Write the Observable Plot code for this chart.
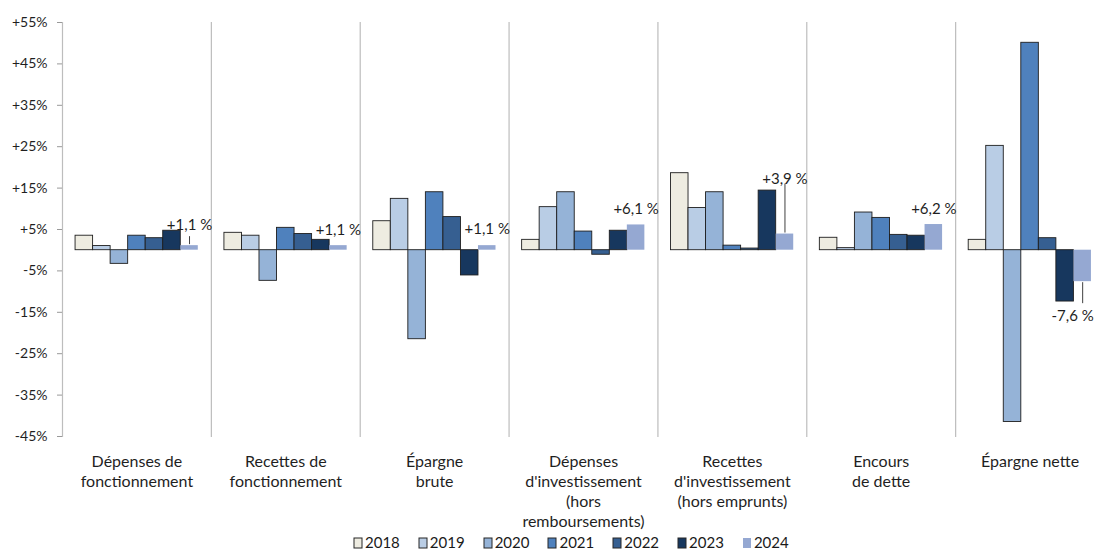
<!DOCTYPE html>
<html>
<head>
<meta charset="utf-8">
<script src="https://cdn.jsdelivr.net/npm/d3@7"></script>
<script src="https://cdn.jsdelivr.net/npm/@observablehq/plot@0.6"></script>
<style>
  html, body { margin: 0; padding: 0; background: #fff; overflow: hidden; width: 1098px; height: 551px; }
  #wrap { position: relative; width: 1098px; height: 551px; overflow: hidden; font-family: Lato, sans-serif; }
  #chart { position: absolute; left: 0; top: 0; width: 1104px; }
  #chart svg { max-width: none !important; width: 1104px !important; height: 551px !important; }
  #legend { position: absolute; left: 354px; top: 534px; height: 17px; }
  #legend .leg-swatches { font-family: Lato, sans-serif; font-size: 15px; color: #1a1a1a; margin: 0; }
  #legend .leg-swatches-wrap { min-height: 17px; flex-wrap: nowrap; }
  #legend .leg-swatch { margin-right: 19px; line-height: 17px; }
  #legend .leg-swatch > svg { margin-right: 3px; }
  #legend .leg-swatch rect { stroke: #262626; stroke-width: 1; }
  #legend .leg-swatch:last-child rect { stroke: none; }
</style>
</head>
<body>
<div id="wrap"><div id="chart"></div><div id="legend"></div></div>
<script>
// ---- Data ----
const categories = [
  "Dépenses de\nfonctionnement",
  "Recettes de\nfonctionnement",
  "Épargne\nbrute",
  "Dépenses\nd'investissement\n(hors\nremboursements)",
  "Recettes\nd'investissement\n(hors emprunts)",
  "Encours\nde dette",
  "Épargne nette"
];
const years = ["2018", "2019", "2020", "2021", "2022", "2023", "2024"];
const v2018 = [3.5, 4.2, 7.0, 2.5, 18.6, 3.0, 2.5];
const v2019 = [1.0, 3.5, 12.4, 10.4, 10.2, 0.5, 25.2];
const v2020 = [-3.3, -7.4, -21.5, 14.0, 14.0, 9.1, -41.5];
const v2021 = [3.5, 5.4, 14.0, 4.5, 1.1, 7.8, 50.1];
const v2022 = [2.9, 3.9, 8.0, -1.1, 0.4, 3.7, 2.9];
const v2023 = [4.7, 2.5, -6.1, 4.7, 14.4, 3.5, -12.4];
const v2024 = [1.1, 1.1, 1.1, 6.1, 3.9, 6.2, -7.6];
const labels2024 = ["+1,1 %", "+1,1 %", "+1,1 %", "+6,1 %", "+3,9 %", "+6,2 %", "-7,6 %"];
const yTicks = [-45, -35, -25, -15, -5, 5, 15, 25, 35, 45, 55];
const colors = ["#eeece1", "#b9cde5", "#95b3d7", "#4f81bd", "#365f91", "#17375e", "#95a8d2"];

const seriesValues = [v2018, v2019, v2020, v2021, v2022, v2023, v2024];
const data = [];
categories.forEach((c, i) => years.forEach((y, j) => data.push({category: c, year: y, value: seriesValues[j][i]})));
const labelData = categories.map((c, i) => ({category: c, year: "2024", value: v2024[i], label: labels2024[i]}));

// label placement (pixel offsets) per category index
const labelStyle = [
  {dy: -20, lead: [-1, 9]},
  {dy: -15},
  {dy: -16},
  {dy: -16},
  {dy: -55, lead: [-1, 50]},
  {dy: -15},
  {dy: 35, dx: -10, lead: [1, -22]}
];

const labelMarks = [];
labelStyle.forEach((s, i) => {
  const d = [labelData[i]];
  labelMarks.push(Plot.text(d, {fx: "category", x: "year", y: "value", text: "label", dy: s.dy, dx: s.dx || 0, fontSize: 15, fill: "#1f1f1f", fontFamily: "Lato"}));
  if (s.lead) {
    labelMarks.push(Plot.ruleX(d, {fx: "category", x: "year", y1: "value", y2: "value", insetTop: s.lead[0], insetBottom: s.lead[1], stroke: "#404040", strokeWidth: 1}));
  }
});

const chart = Plot.plot({
  width: 1104,
  height: 551,
  marginLeft: 62,
  marginRight: 0,
  marginTop: 22,
  marginBottom: 115,
  style: {fontFamily: "Lato, sans-serif", background: "transparent", color: "#1f1f1f"},
  fx: {domain: categories, padding: 0, round: false, label: null},
  x: {domain: years, paddingInner: 0, paddingOuter: 0.745, round: false, axis: null},
  y: {domain: [-45, 55], axis: null},
  color: {domain: years, range: colors},
  marks: [
    Plot.frame({anchor: "left", stroke: "#bdbdbd", strokeWidth: 1.2}),
    Plot.barY(data, {filter: d => d.year !== "2024", fx: "category", x: "year", y: "value", fill: "year", stroke: "#1e1e1e", strokeWidth: 0.9}),
    Plot.barY(data, {filter: d => d.year === "2024", fx: "category", x: "year", y: "value", fill: "year"}),
    Plot.axisY({ticks: yTicks, tickFormat: d => (d > 0 ? "+" : "") + d + "%", tickSize: 5, tickPadding: 10, stroke: "#999", fontSize: 14, fill: "#1f1f1f", label: null}),
    Plot.axisFx({anchor: "bottom", tickSize: 0, tickPadding: 16, fontSize: 16, lineHeight: 1.25, label: null, fill: "#1f1f1f"}),
    ...labelMarks
  ]
});
document.getElementById("chart").appendChild(chart);

const legend = Plot.legend({color: {domain: years, range: colors}, legend: "swatches", swatchWidth: 8, swatchHeight: 10, className: "leg"});
document.getElementById("legend").appendChild(legend);
</script>
</body>
</html>
